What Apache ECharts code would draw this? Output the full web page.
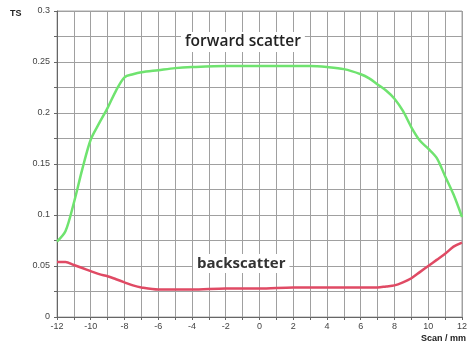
<!DOCTYPE html>
<html>
<head>
<meta charset="utf-8">
<script src="https://cdn.jsdelivr.net/npm/echarts@6/dist/echarts.min.js"></script>
<style>html,body{margin:0;padding:0;background:#fff}#c{width:470px;height:351px}</style>
</head>
<body>
<div id="c"></div>
<script>
const forwardX = [-12, -11.5, -11, -10.5, -10, -9.5, -9, -8.5, -8, -7.5, -7, -6, -5, -4, -2, 0, 2, 3, 4, 5, 6, 6.5, 7, 7.5, 8, 8.5, 9, 9.5, 10, 10.5, 11, 11.5, 12];
const forwardY = [0.074, 0.084, 0.112, 0.145, 0.174, 0.19, 0.205, 0.222, 0.235, 0.238, 0.240, 0.242, 0.244, 0.245, 0.246, 0.246, 0.246, 0.246, 0.245, 0.243, 0.238, 0.234, 0.228, 0.222, 0.214, 0.202, 0.186, 0.173, 0.165, 0.156, 0.138, 0.12, 0.098];
const backX = [-12, -11.5, -11, -10.5, -10, -9.5, -9, -8.5, -8, -7.5, -7, -6, -5, -4, -2, 0, 2, 4, 6, 7, 7.5, 8, 8.5, 9, 9.5, 10, 10.5, 11, 11.5, 12];
const backY = [0.054, 0.054, 0.051, 0.048, 0.045, 0.042, 0.040, 0.037, 0.034, 0.031, 0.029, 0.027, 0.027, 0.027, 0.028, 0.028, 0.029, 0.029, 0.029, 0.029, 0.030, 0.031, 0.034, 0.038, 0.044, 0.050, 0.056, 0.062, 0.069, 0.073];
const xTicks = [-12, -10, -8, -6, -4, -2, 0, 2, 4, 6, 8, 10, 12];
const yTicks = [0, 0.05, 0.1, 0.15, 0.2, 0.25, 0.3];

const chart = echarts.init(document.getElementById('c'));
const gridLine = {show: true, lineStyle: {color: '#a0a0a0', width: 1}};
chart.setOption({
  animation: false,
  grid: {left: 57, right: 5, top: 11, bottom: 34, show: true, borderColor: '#a8a8a8', borderWidth: 1},
  xAxis: {
    type: 'value', min: -12, max: 12, interval: 1,
    axisLine: {show: true, onZero: false, lineStyle: {color: '#666', width: 1}},
    axisTick: {show: true, length: 3, lineStyle: {color: '#666'}},
    splitLine: gridLine,
    axisLabel: {
      fontSize: 9, color: '#444', margin: 5, fontFamily: 'Liberation Sans',
      formatter: v => xTicks.includes(v) ? String(v) : ''
    }
  },
  yAxis: {
    type: 'value', min: 0, max: 0.3, interval: 0.025,
    axisLine: {show: true, onZero: false, lineStyle: {color: '#666', width: 1}},
    axisTick: {show: true, length: 3, lineStyle: {color: '#666'}},
    splitLine: gridLine,
    axisLabel: {
      fontSize: 9, color: '#444', margin: 7, fontFamily: 'Liberation Sans',
      formatter: v => {
        const m = yTicks.find(t => Math.abs(t - v) < 1e-6);
        return m === undefined ? '' : String(m);
      }
    }
  },
  graphic: [
    {type: 'text', left: 10, top: 9, style: {text: 'TS', font: 'bold 9px Liberation Sans', fill: '#222'}},
    {type: 'text', right: 4, top: 334, style: {text: 'Scan / mm', font: 'bold 9px Liberation Sans', fill: '#222'}},
    {type: 'text', left: 181, top: 32, z: 10, style: {text: 'forward scatter', font: '600 15.5px "Open Sans"', fill: '#222', backgroundColor: '#fff', padding: [2, 4, 2, 4]}},
    {type: 'text', left: 193, top: 254, z: 10, style: {text: 'backscatter', font: 'bold 15px "Open Sans"', fill: '#333', backgroundColor: '#fff', padding: [2, 4, 2, 4]}}
  ],
  series: [
    {
      type: 'line', smooth: 0.3, symbol: 'none',
      data: forwardX.map((x, i) => [x, forwardY[i]]),
      lineStyle: {color: '#6fe36f', width: 2.5}
    },
    {
      type: 'line', smooth: 0.3, symbol: 'none',
      data: backX.map((x, i) => [x, backY[i]]),
      lineStyle: {color: '#e04a64', width: 2.5}
    }
  ]
});
</script>
</body>
</html>
